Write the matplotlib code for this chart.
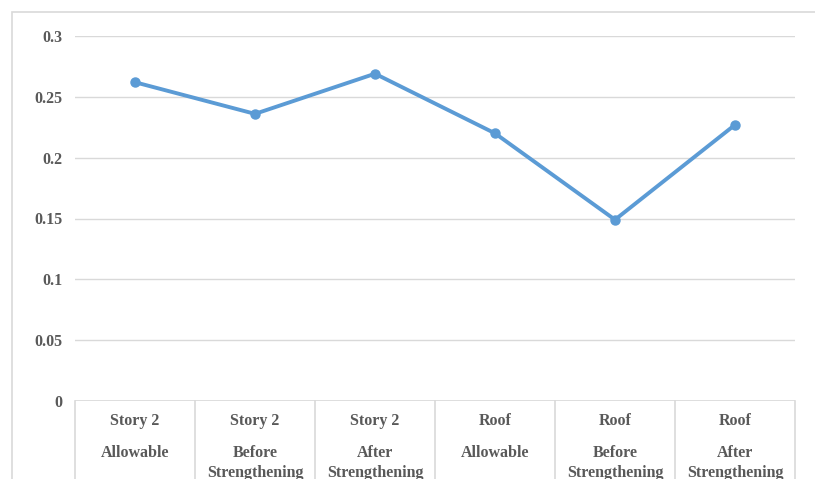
import numpy as np
import matplotlib.pyplot as plt
from matplotlib.patches import Rectangle
import matplotlib.transforms as mtransforms

# Chart data
groups = ["Story 2", "Story 2", "Story 2", "Roof", "Roof", "Roof"]
stages = ["Allowable", "Before\nStrengthening", "After\nStrengthening",
          "Allowable", "Before\nStrengthening", "After\nStrengthening"]
values = [0.262, 0.236, 0.269, 0.220, 0.149, 0.227]
yticks = [0, 0.05, 0.1, 0.15, 0.2, 0.25, 0.3]
ytick_labels = ["0", "0.05", "0.1", "0.15", "0.2", "0.25", "0.3"]

W, H = 815, 479
text_color = "#595959"
grid_color = "#D9D9D9"
line_color = "#5B9BD5"
font = dict(family="Liberation Serif", weight="bold", size=11.5, color=text_color)

fig = plt.figure(figsize=(W / 100, H / 100), dpi=100)
fig.patch.set_facecolor("white")

# outer chart border
fig.patches.append(Rectangle((12 / W, -0.05), 1.1, (H - 12) / H + 0.05,
                             transform=fig.transFigure, fill=False,
                             edgecolor=grid_color, lw=1.2))

# plot area
left, right, top, bottom = 75, 795, 36, 401
ax = fig.add_axes([left / W, (H - bottom) / H, (right - left) / W, (bottom - top) / H])
x = np.arange(len(values))
ax.plot(x, values, color=line_color, lw=2.8, marker="o", markersize=6.5,
        solid_joinstyle="round", zorder=3)

ax.set_xlim(-0.5, len(values) - 0.5)
ax.set_ylim(0, 0.3)
ax.set_yticks(yticks)
ax.set_yticklabels(ytick_labels, fontdict=font)
ax.tick_params(axis="y", length=0, pad=9)
ax.set_xticks([])
ax.grid(axis="y", color=grid_color, lw=1)
ax.set_axisbelow(True)
for s in ax.spines.values():
    s.set_visible(False)
ax.axhline(0, color=grid_color, lw=1.2, zorder=2)

# category table under the axis
trans = mtransforms.blended_transform_factory(ax.transData, ax.transAxes)
px = 1 / (bottom - top)
for b in np.arange(-0.5, len(values), 1.0):
    ax.plot([b, b], [0, -100 * px], color=grid_color, lw=1.2,
            transform=trans, clip_on=False)
for i in range(len(values)):
    ax.text(i, -20 * px, groups[i], transform=trans, ha="center", va="center", **font)
    ax.text(i, -44 * px, stages[i], transform=trans, ha="center", va="top",
            linespacing=1.3, **font)

fig.savefig("out.png", dpi=100)
